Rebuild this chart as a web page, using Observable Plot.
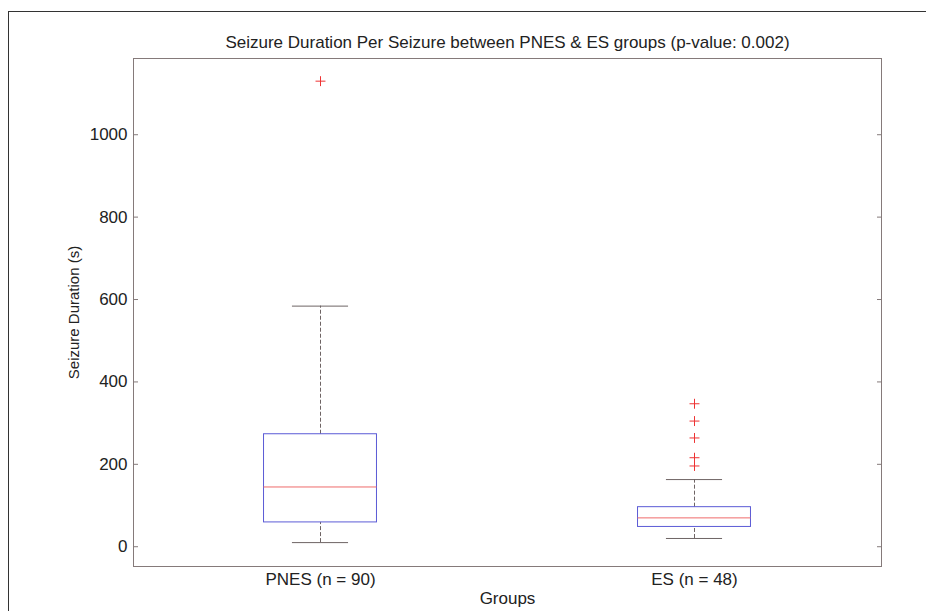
<!DOCTYPE html>
<html><head><meta charset="utf-8">
<script src="https://cdn.jsdelivr.net/npm/d3@7"></script>
<script src="https://cdn.jsdelivr.net/npm/@observablehq/plot@0.6"></script>
<style>
body{margin:0;background:#fff;}
#wrap{position:relative;width:926px;height:611px;overflow:hidden;background:#fff;}
#border{position:absolute;left:8px;top:11px;width:1000px;height:1000px;border-top:1px solid #333;border-left:1px solid #333;}
#chart{position:absolute;left:0;top:0;}
</style></head><body>
<div id="wrap"><div id="border"></div><div id="chart"></div></div>
<script>
const groups = ["PNES (n = 90)", "ES (n = 48)"];
const positions = [1, 2];
const lowerWhisker = [10, 20];
const q1 = [59, 48];
const median = [145, 70];
const q3 = [273, 96];
const upperWhisker = [584, 163];
const outlierGroup = [1, 2, 2, 2, 2, 2];
const outlierValue = [1130, 196, 216, 264, 305, 347];
const yTicks = [0, 200, 400, 600, 800, 1000];
const titleText = "Seizure Duration Per Seizure between PNES & ES groups (p-value: 0.002)";
const yLabel = "Seizure Duration (s)";
const xLabel = "Groups";

const axisColor = "#857a7a", textColor = "#222", boxColor = "#5b5bd6",
      medianColor = "#ef6a6a", whiskerColor = "#6e6464", outlierColor = "#ee3333";
const halfBox = 0.151, halfCap = 0.075;

const boxes = groups.map((g, i) => ({g, x: positions[i], lo: lowerWhisker[i], q1: q1[i], med: median[i], q3: q3[i], hi: upperWhisker[i]}));
const outliers = outlierValue.map((v, i) => ({x: outlierGroup[i], v}));

const chart = Plot.plot({
  width: 926, height: 611,
  marginLeft: 133, marginRight: 45, marginTop: 58, marginBottom: 45,
  style: {fontFamily: "'Liberation Sans', Arial, sans-serif", fontSize: "17px", color: textColor, background: "transparent"},
  x: {domain: [0.5, 2.5]},
  y: {domain: [-48, 1185]},
  marks: [
    Plot.frame({stroke: axisColor}),
    Plot.axisY({anchor: "left", ticks: yTicks, tickFormat: d => String(d), tickSize: -5, tickPadding: 11, label: null, stroke: axisColor, fill: textColor, fontSize: 17}),
    Plot.axisY({anchor: "right", ticks: yTicks, tickSize: -5, tickFormat: () => "", label: null, stroke: axisColor}),
    Plot.axisX({ticks: positions, tickFormat: d => groups[d - 1], tickSize: 0, tickPadding: 6, label: null, fill: textColor, fontSize: 17}),
    Plot.ruleX(boxes, {x: "x", y1: "q3", y2: "hi", stroke: whiskerColor, strokeDasharray: "4,2"}),
    Plot.ruleX(boxes, {x: "x", y1: "lo", y2: "q1", stroke: whiskerColor, strokeDasharray: "4,2"}),
    Plot.ruleY(boxes, {y: "hi", x1: d => d.x - halfCap, x2: d => d.x + halfCap, stroke: whiskerColor}),
    Plot.ruleY(boxes, {y: "lo", x1: d => d.x - halfCap, x2: d => d.x + halfCap, stroke: whiskerColor}),
    Plot.rect(boxes, {x1: d => d.x - halfBox, x2: d => d.x + halfBox, y1: "q1", y2: "q3", stroke: boxColor, fill: "none"}),
    Plot.ruleY(boxes, {y: "med", x1: d => d.x - halfBox, x2: d => d.x + halfBox, stroke: medianColor}),
    Plot.dot(outliers, {x: "x", y: "v", symbol: "plus", r: 3.3, stroke: outlierColor, strokeWidth: 1}),
    Plot.text([titleText], {frameAnchor: "top", lineAnchor: "middle", dy: -16, fontSize: 17, fill: textColor}),
    Plot.text([yLabel], {frameAnchor: "left", textAnchor: "middle", lineAnchor: "middle", rotate: -90, dx: -59, fontSize: 15, fill: textColor}),
    Plot.text([xLabel], {frameAnchor: "bottom", lineAnchor: "top", dy: 25, fontSize: 17, fill: textColor})
  ]
});
document.getElementById("chart").append(chart);
</script>
</body></html>
